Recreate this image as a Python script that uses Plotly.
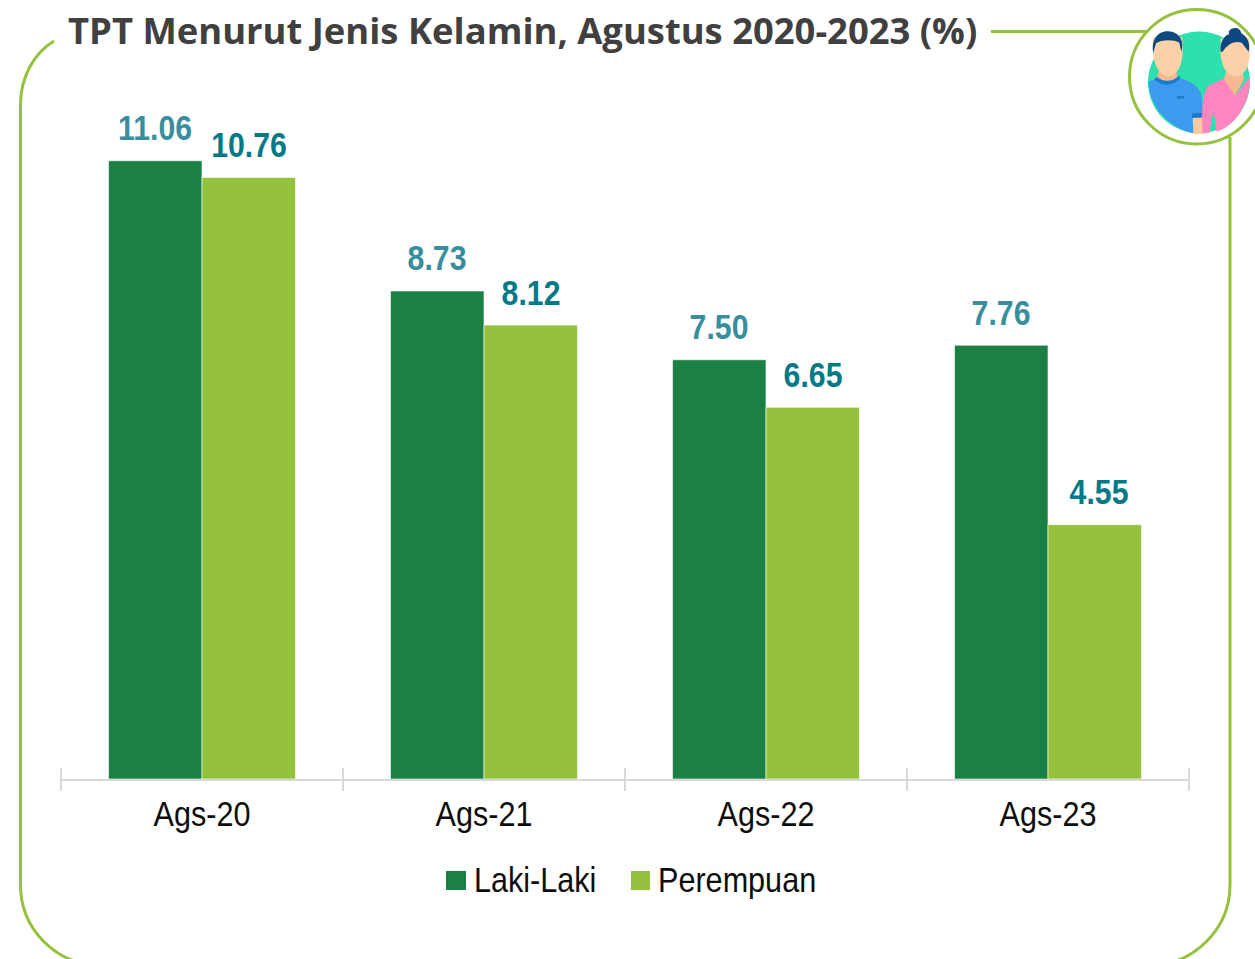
import plotly.graph_objects as go

categories = ["Ags-20", "Ags-21", "Ags-22", "Ags-23"]
series_names = ["Laki-Laki", "Perempuan"]
laki = [11.06, 8.73, 7.50, 7.76]
perempuan = [10.76, 8.12, 6.65, 4.55]
title_text = "TPT Menurut Jenis Kelamin, Agustus 2020-2023 (%)"

W, H = 1255, 959
L, R, T, B = 61, 66, 0, 180
YMAX = 779 / 55.9
DARK, LIGHT = "#1B8043", "#95C23D"
NARROW = "Arial Narrow, Liberation Sans, sans-serif"


def px(x):
    return (x - L) / (W - L - R)


def py(y):
    return (H - B - y) / (H - T - B)


def path(pts):
    """pts: tokens, tuples are pixel coordinates"""
    out = []
    for p in pts:
        out.append(p if isinstance(p, str) else f"{px(p[0]):.5f},{py(p[1]):.5f}")
    return " ".join(out)


def z(x, y):
    return (1100 + x / 3, y / 3)


def zpath(fill, *tok):
    pts = [t if isinstance(t, str) else z(*t) for t in tok]
    return dict(type="path", xref="paper", yref="paper", path=path(pts), fillcolor=fill,
                line=dict(width=0), layer="above")


fig = go.Figure()
for name, vals, col in zip(series_names, [laki, perempuan], [DARK, LIGHT]):
    fig.add_bar(x=categories, y=vals, name=name, marker=dict(color=col, line=dict(color="white", width=0.6)))

shapes = []
# frame
A = "#95C23D"
frame = ["M", (54, 41), "C", (34, 53), (20.5, 77), (20.5, 105), "L", (20.5, 885),
         "C", (20.5, 929), (56, 965), (100, 965), "L", (1150, 965),
         "C", (1194, 965), (1230, 929), (1230, 885), "L", (1230, 137)]
shapes.append(dict(type="path", xref="paper", yref="paper", path=path(frame), line=dict(color=A, width=3), layer="below"))
shapes.append(dict(type="line", xref="paper", yref="paper", x0=px(991), x1=px(1146), y0=py(31.5), y1=py(31.5),
                   line=dict(color=A, width=3), layer="below"))
# icon ring
shapes.append(dict(type="circle", xref="paper", yref="paper", x0=px(1129.5), x1=px(1264), y0=py(144), y1=py(9.5),
                   fillcolor="white", line=dict(color=A, width=3), layer="above"))
shapes.append(dict(type="circle", xref="paper", yref="paper", x0=px(1148), x1=px(1250), y0=py(133), y1=py(31.5),
                   fillcolor="#2EE0AE", line=dict(width=0), layer="above"))
# male figure
shapes.append(zpath("#3D9BEF", "M", (145, 245), "C", (175, 232), (230, 230), (250, 238), "C", (285, 250), (300, 265), (305, 290),
                    "L", (315, 350), "L", (310, 395), "L", (280, 400), "C", (215, 385), (150, 330), (145, 245), "Z"))
shapes.append(zpath("#1A7CC8", "M", (162, 238), "C", (185, 262), (225, 258), (242, 232), "L", (232, 228), "C", (215, 242), (190, 245), (172, 230), "Z"))
shapes.append(zpath("#F9B98F", "M", (178, 205), "L", (228, 205), "L", (232, 232), "C", (215, 246), (190, 246), (172, 232), "Z"))
shapes.append(zpath("#FDD1A8", "M", (160, 112), "L", (246, 112), "C", (254, 180), (240, 225), (205, 228), "C", (172, 225), (152, 180), (160, 112), "Z"))
shapes.append(zpath("#0D4880", "M", (160, 158), "C", (152, 120), (175, 92), (205, 94), "C", (235, 95), (255, 120), (244, 155),
                    "L", (238, 128), "C", (220, 118), (185, 118), (168, 130), "Z"))
shapes.append(zpath("#1A7CC8", "M", (231, 288), "L", (252, 288), "L", (254, 295), "L", (232, 296), "Z"))
shapes.append(zpath("#F9C9A0", "M", (278, 352), "L", (312, 352), "L", (310, 402), "L", (280, 402), "Z"))
shapes.append(zpath("#1A7CC8", "M", (275, 340), "L", (313, 338), "L", (314, 352), "L", (276, 354), "Z"))
# female figure
shapes.append(zpath("#FF85C0", "M", (308, 400), "C", (305, 340), (305, 280), (325, 258), "L", (372, 235), "L", (408, 285), "L", (445, 235),
                    "L", (450, 240), "C", (448, 310), (410, 375), (350, 395), "L", (340, 330), "L", (328, 398), "Z"))
shapes.append(zpath("#F9B98F", "M", (382, 200), "L", (425, 200), "L", (432, 238), "L", (405, 288), "L", (372, 238), "Z"))
shapes.append(zpath("#FDD1A8", "M", (362, 115), "L", (448, 115), "C", (454, 190), (440, 228), (405, 230), "C", (375, 225), (356, 190), (362, 115), "Z"))
shapes.append(zpath("#0D4880", "M", (362, 155), "C", (358, 125), (375, 105), (388, 102), "C", (378, 85), (420, 72), (424, 100),
                    "C", (442, 110), (452, 130), (446, 155), "L", (425, 128), "C", (405, 122), (385, 130), (368, 155), "Z"))
# axis ticks at category boundaries
step = (W - L - R) / len(categories)
for i in range(len(categories) + 1):
    xp = px(L + i * step)
    shapes.append(dict(type="line", xref="paper", yref="paper", x0=xp, x1=xp, y0=py(768), y1=py(791),
                       line=dict(color="#D9D9D9", width=2), layer="below"))
# legend swatches
for x0, x1, c in [(446, 466, DARK), (631, 650, LIGHT)]:
    shapes.append(dict(type="rect", xref="paper", yref="paper", x0=px(x0), x1=px(x1), y0=py(890), y1=py(871),
                       fillcolor=c, line=dict(width=0)))

ann = []
for vals, shift, c in [(laki, -46.75, "#398E9E"), (perempuan, 46.75, "#007A87")]:
    for cat, v in zip(categories, vals):
        extra = 4 if v == perempuan[-1] else 0
        ann.append(dict(x=cat, y=v, xref="x", yref="y", xshift=shift + extra, yshift=10.5, yanchor="bottom", showarrow=False,
                        text=f"<b>{v:.2f}</b>", font=dict(family=NARROW, size=36, color=c)))
for name, x0 in zip(series_names, [472, 656]):
    ann.append(dict(x=px(x0), y=py(880), xref="paper", yref="paper", xanchor="left", yanchor="middle", showarrow=False,
                    text=name, font=dict(family=NARROW, size=36, color="#0D0D0D")))
ann.append(dict(x=px(66), y=py(30), xref="paper", yref="paper", xanchor="left", yanchor="middle", showarrow=False,
                text=f"<b>{title_text}</b>", font=dict(family="Open Sans, sans-serif", size=36.4, color="#404040")))

fig.update_layout(width=W, height=H, margin=dict(l=L, r=R, t=T, b=B, pad=0), paper_bgcolor="white", plot_bgcolor="white",
                  barmode="group", bargap=0.337, bargroupgap=0, showlegend=False, shapes=shapes, annotations=ann,
                  yaxis=dict(range=[0, YMAX], visible=False),
                  xaxis=dict(showline=True, linecolor="#D9D9D9", linewidth=2, ticks="outside", ticklen=2, tickcolor="rgba(0,0,0,0)",
                             tickfont=dict(family=NARROW, size=36, color="#0D0D0D"), showgrid=False))

# The reference uses a condensed face; none is installed, so the regular face is narrowed in place.
post = """
document.body.style.margin='0';document.documentElement.style.overflow='hidden';
document.querySelectorAll('.plotly-graph-div text').forEach(function(t){
  var f=(t.style.fontFamily||'');
  if(f.indexOf('Narrow')<0)return;
  var left=t.getAttribute('text-anchor')==='start'||/Laki|Perempuan/.test(t.textContent);
  var b=t.getBBox();
  var bold=/^[0-9.]+$/.test(t.textContent);
  var s=bold?0.84:0.85;
  var cx=left?b.x:b.x+b.width/2;
  var old=t.getAttribute('transform')||'';
  t.setAttribute('transform',old+' translate('+cx+',0) scale('+s+',1) translate('+(-cx)+',0)');
});
"""
fig.write_html("out.html", config=dict(displayModeBar=False), post_script=post)
